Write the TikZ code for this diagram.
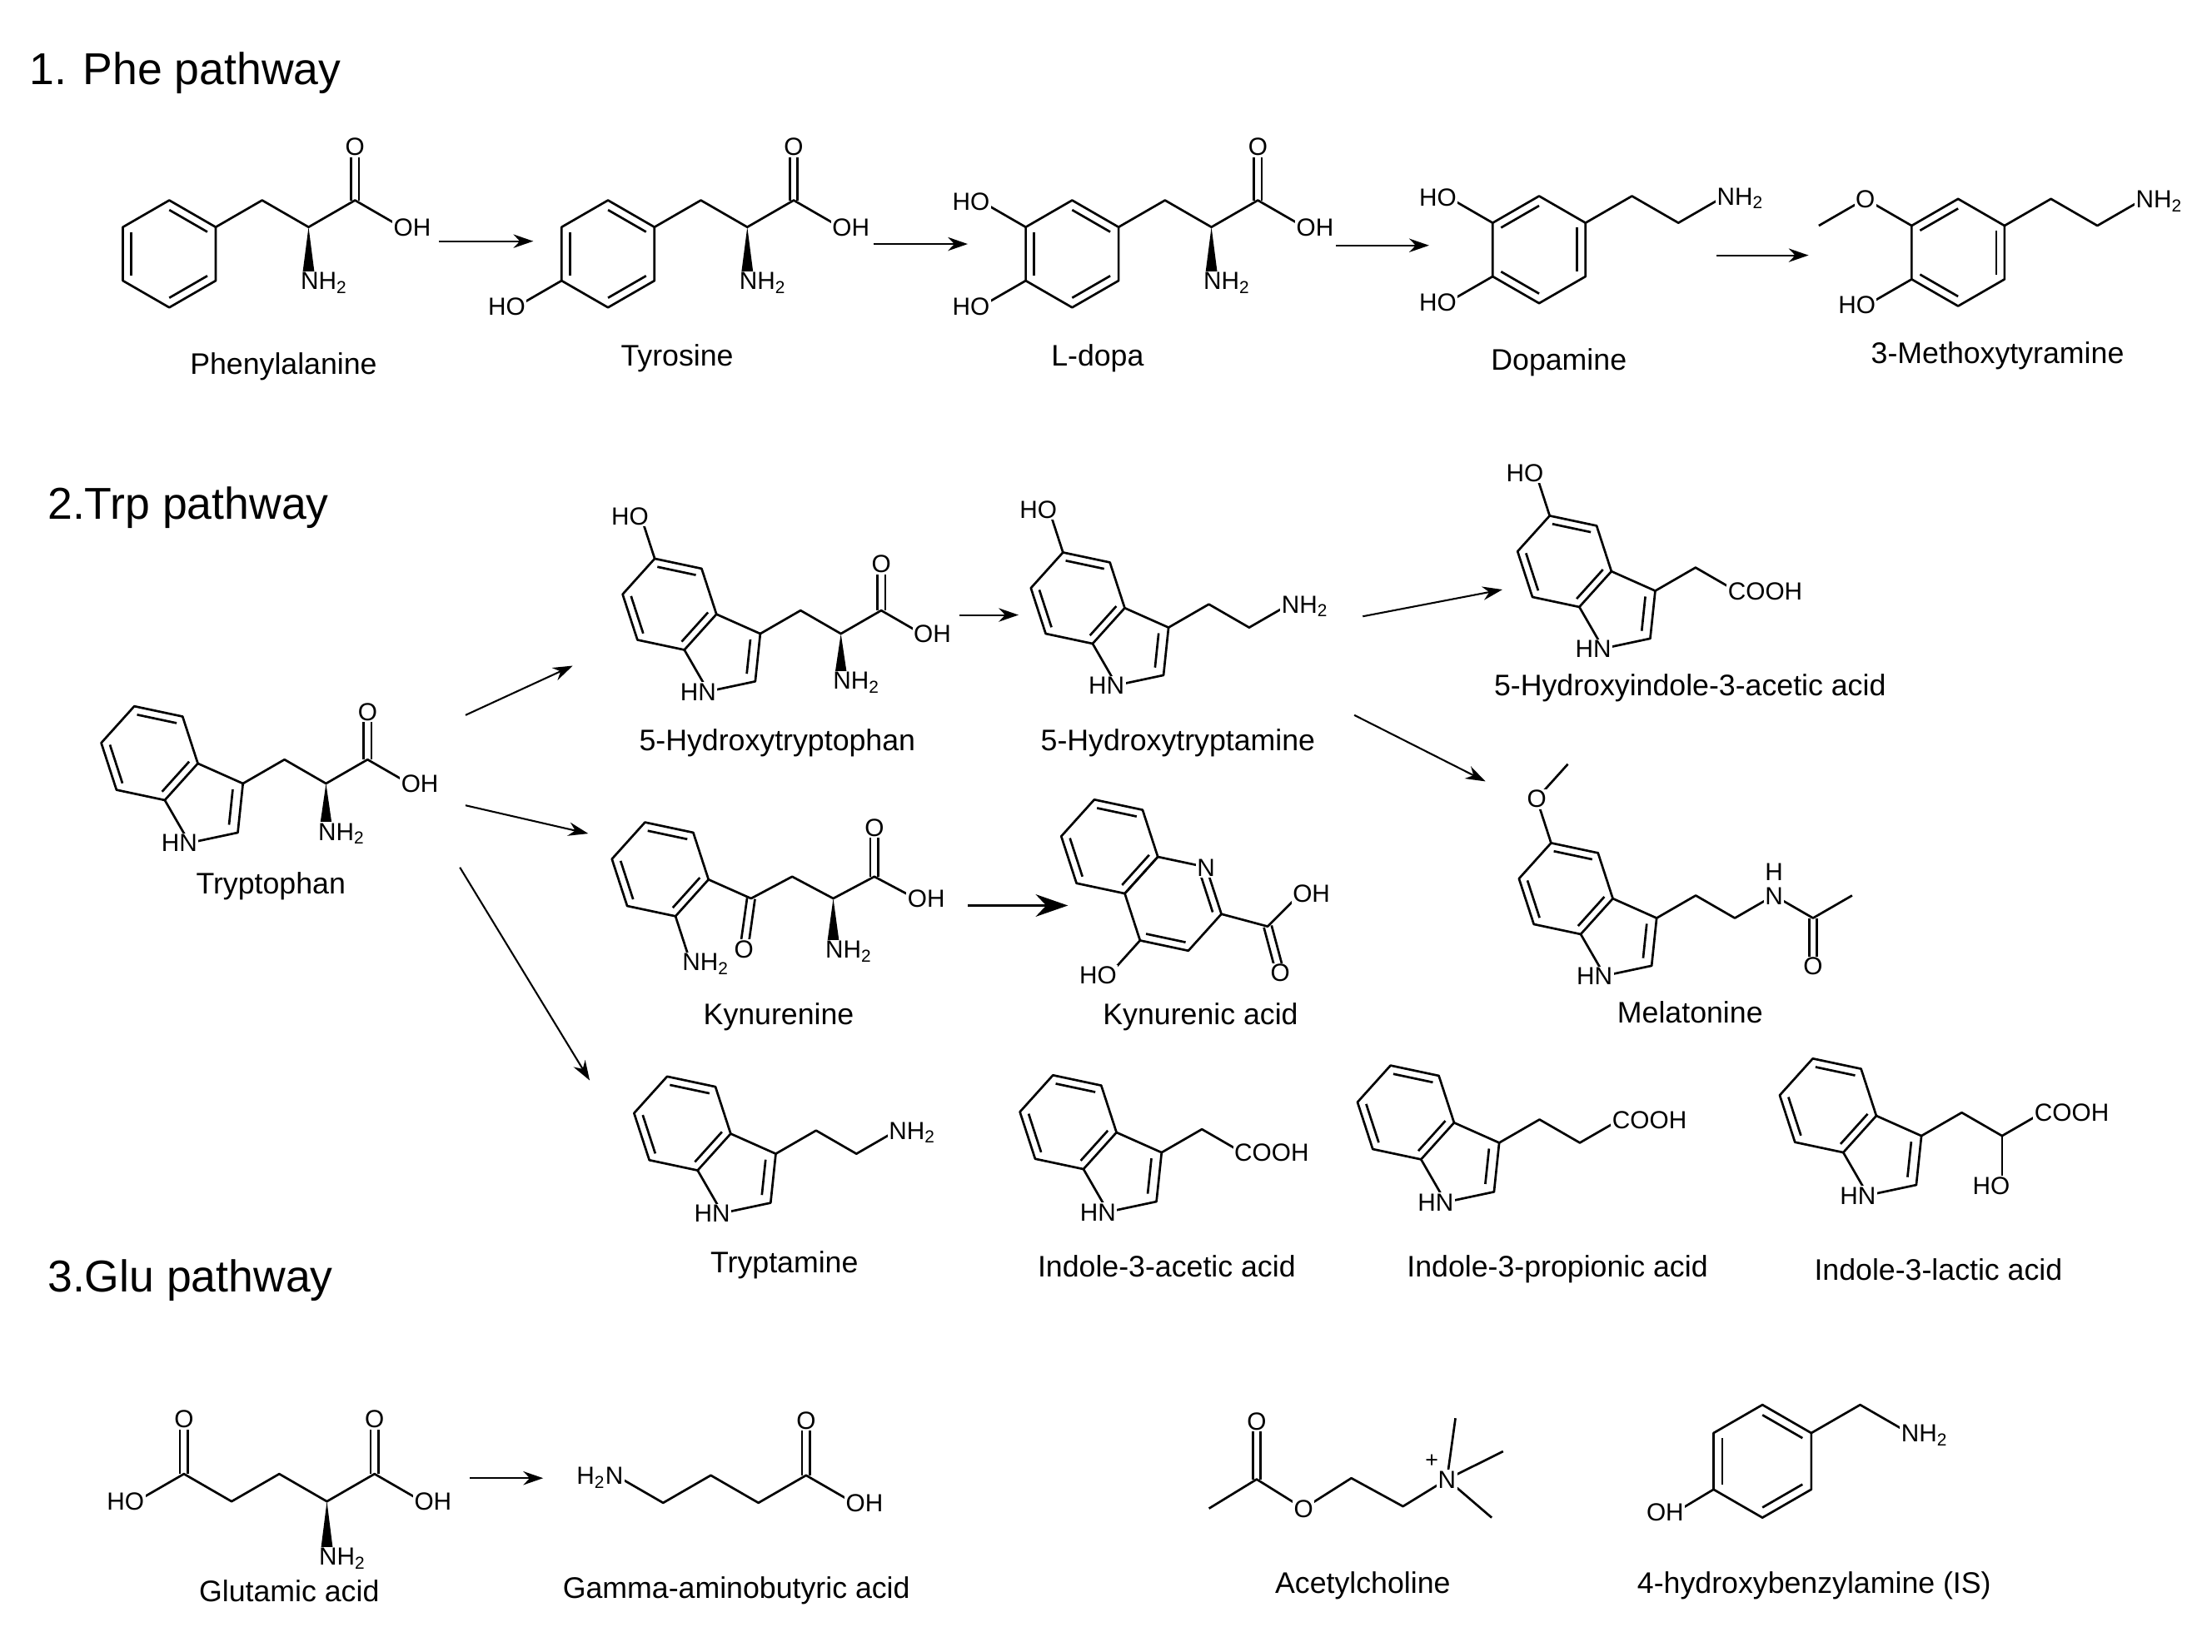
\documentclass[tikz,border=0pt]{standalone}
\usepackage{fontspec}
\setmainfont{Liberation Sans}
\usetikzlibrary{calc,arrows.meta}
\newcounter{lbl}
\tikzset{
 lab/.style={font=\fontsize{10}{12}\selectfont,inner sep=0.5pt,fill=white},
 cname/.style={font=\fontsize{12}{14}\selectfont,inner sep=1pt},
 ttl/.style={font=\fontsize{18}{20}\selectfont,anchor=west,inner sep=0pt},
 arr/.style={-{Stealth[length=8pt,width=5.5pt]},line width=0.7pt},
 bigarr/.style={-{Stealth[length=13pt,width=9pt]},line width=1pt}
}
\newcommand\atC[2]{\stepcounter{lbl}\node[lab,anchor=base,yshift=-3.6pt] (lb\arabic{lbl}) at (#1) {#2};}
\newcommand\atL[2]{\stepcounter{lbl}\node[lab,anchor=base west,xshift=-4.1pt,yshift=-3.6pt] (lb\arabic{lbl}) at (#1) {#2};}
\newcommand\atR[2]{\stepcounter{lbl}\node[lab,anchor=base east,xshift=4.1pt,yshift=-3.6pt] (lb\arabic{lbl}) at (#1) {#2};}
\newcommand\dbin[4][0.82]{\draw ($(#4)!#1!(#2)$) -- ($(#4)!#1!(#3)$);}
\newcommand\dbond[2]{\draw ($(#1)!1.6pt!90:(#2)$) -- ($(#2)!1.6pt!-90:(#1)$); \draw ($(#1)!1.6pt!-90:(#2)$) -- ($(#2)!1.6pt!90:(#1)$);}
\newcommand\wdg[2]{\fill (#1) -- ($(#2)!2.8pt!90:(#1)$) -- ($(#2)!2.8pt!-90:(#1)$) -- cycle;}
\newcommand\hexr[4]{%
 \coordinate (#1c) at #2;
 \coordinate (#1v0) at ($(#1c)+(#4:#3)$);
 \coordinate (#1v1) at ($(#1c)+(#4+60:#3)$);
 \coordinate (#1v2) at ($(#1c)+(#4+120:#3)$);
 \coordinate (#1v3) at ($(#1c)+(#4+180:#3)$);
 \coordinate (#1v4) at ($(#1c)+(#4+240:#3)$);
 \coordinate (#1v5) at ($(#1c)+(#4+300:#3)$);
 \draw (#1v0)--(#1v1)--(#1v2)--(#1v3)--(#1v4)--(#1v5)--cycle;}
\newcommand\indole[3]{%
 \hexr{#1}{#2}{#3}{-108}
 \coordinate (#1C3) at ($(#1v2)!1!108:(#1v3)$);
 \coordinate (#1N) at ($(#1v3)!1!-108:(#1v2)$);
 \coordinate (#1C2) at ($(#1C3)!1!108:(#1v2)$);
 \coordinate (#1pc) at ($0.2*(#1v2)+0.2*(#1C3)+0.2*(#1C2)+0.2*(#1N)+0.2*(#1v3)$);
 \draw (#1v2)--(#1C3)--(#1C2)--(#1N)--(#1v3);
 \dbin{#1v0}{#1v1}{#1c}\dbin{#1v5}{#1v4}{#1c}\dbin{#1v2}{#1v3}{#1c}\dbin[0.72]{#1C3}{#1C2}{#1pc}
 \atR{#1N}{HN}}
\newcommand\aacid[3]{%
 \coordinate (#1A) at ($(#2)+(-30:#3)$);
 \coordinate (#1B) at ($(#1A)+(30:#3)$);
 \coordinate (#1C) at ($(#1B)+(-30:#3)$);
 \coordinate (#1O) at ($(#1C)+(-90:#3)$);
 \coordinate (#1OH) at ($(#1C)+(30:#3)$);
 \coordinate (#1N) at ($(#1B)+(90:#3)$);
 \draw (#2)--(#1A)--(#1B)--(#1C)--(#1OH);
 \dbond{#1C}{#1O}\wdg{#1B}{#1N}
 \atC{#1O}{O}\atL{#1OH}{OH}\atL{#1N}{NH\textsubscript{2}}}
\newcommand\ethyl[4]{%
 \coordinate (#1A) at ($(#2)+(-30:#3)$);
 \coordinate (#1B) at ($(#1A)+(30:#3)$);
 \coordinate (#1N) at ($(#1B)+(-30:#3)$);
 \draw (#2)--(#1A)--(#1B)--(#1N);
 \atL{#1N}{#4}}
\newcommand\hydroxy[3]{% prefix, vertex, angle
 \coordinate (#1O) at ($(#2)+(#3:32)$);
 \draw (#2)--(#1O); \atR{#1O}{HO}}
\begin{document}
\begin{tikzpicture}[x=0.02cm,y=-0.02cm,line width=0.9pt,line join=round]
\useasboundingbox (0,0) rectangle (1568,1171);
\fill[white] (0,0) rectangle (1568,1171);
% ---------- titles
\node[ttl] (t1) at (20,52) {1. Phe pathway};
\node[ttl] (t2) at (33,360) {2.Trp pathway};
\node[ttl] (t3) at (33,908) {3.Glu pathway};
% ---------- Phe row
\hexr{phe}{(120,180)}{38}{-90}
\dbin{phev0}{phev1}{phec}\dbin{phev5}{phev4}{phec}\dbin{phev2}{phev3}{phec}
\aacid{phex}{phev1}{38}
\node[cname] (nphe) at (201,260) {Phenylalanine};
\hexr{tyr}{(431,180)}{38}{-90}
\dbin{tyrv0}{tyrv1}{tyrc}\dbin{tyrv5}{tyrv4}{tyrc}\dbin{tyrv2}{tyrv3}{tyrc}
\aacid{tyrx}{tyrv1}{38}
\coordinate (tyrHO) at ($(tyrv4)+(150:36)$); \draw (tyrv4)--(tyrHO); \atR{tyrHO}{HO}
\node[cname] (ntyr) at (480,254) {Tyrosine};
\hexr{dop}{(760,180)}{38}{-90}
\dbin{dopv0}{dopv1}{dopc}\dbin{dopv5}{dopv4}{dopc}\dbin{dopv2}{dopv3}{dopc}
\aacid{dopx}{dopv1}{38}
\coordinate (dopHa) at ($(dopv5)+(210:36)$); \draw (dopv5)--(dopHa); \atR{dopHa}{HO}
\coordinate (dopHb) at ($(dopv4)+(150:36)$); \draw (dopv4)--(dopHb); \atR{dopHb}{HO}
\node[cname] (nldopa) at (778,254) {L-dopa};
\hexr{da}{(1091,177)}{38}{-90}
\dbin{dav5}{dav0}{dac}\dbin{dav1}{dav2}{dac}\dbin{dav3}{dav4}{dac}
\ethyl{dax}{dav1}{38}{NH\textsubscript{2}}
\coordinate (daHa) at ($(dav5)+(210:36)$); \draw (dav5)--(daHa); \atR{daHa}{HO}
\coordinate (daHb) at ($(dav4)+(150:36)$); \draw (dav4)--(daHb); \atR{daHb}{HO}
\node[cname] (nda) at (1105,257) {Dopamine};
\hexr{mt}{(1388,179)}{38}{-90}
\dbin{mtv5}{mtv0}{mtc}\dbin{mtv1}{mtv2}{mtc}\dbin{mtv3}{mtv4}{mtc}
\ethyl{mtx}{mtv1}{38}{NH\textsubscript{2}}
\coordinate (mtO) at ($(mtv5)+(210:38)$);
\coordinate (mtMe) at ($(mtO)+(150:38)$);
\draw (mtv5)--(mtO)--(mtMe); \atC{mtO}{O}
\coordinate (mtHb) at ($(mtv4)+(150:36)$); \draw (mtv4)--(mtHb); \atR{mtHb}{HO}
\node[cname] (nmt) at (1416,252) {3-Methoxytyramine};
% Phe arrows
\coordinate (p1s) at (311,171); \coordinate (p1e) at (378,171);
\coordinate (p2s) at (619,173); \coordinate (p2e) at (686,173);
\coordinate (p3s) at (947,174); \coordinate (p3e) at (1013,174);
\coordinate (p4s) at (1217,181); \coordinate (p4e) at (1282,181);
\draw[arr] (p1s)--(p1e); \draw[arr] (p2s)--(p2e); \draw[arr] (p3s)--(p3e); \draw[arr] (p4s)--(p4e);
% ---------- Trp section
\indole{trp}{(106,534)}{35}
\aacid{trpx}{trpC3}{34}
\node[cname] (ntrp) at (192,628) {Tryptophan};
\indole{htp}{(474.6,428.4)}{34}
\hydroxy{htph}{htpv0}{-108}
\aacid{htpx}{htpC3}{33}
\node[cname] (nhtp) at (551,527) {5-Hydroxytryptophan};
\indole{ht}{(764,424)}{34}
\hydroxy{hth}{htv0}{-108}
\ethyl{htx}{htC3}{33}{NH\textsubscript{2}}
\node[cname] (nht) at (835,527) {5-Hydroxytryptamine};
\indole{hia}{(1109,398)}{34}
\hydroxy{hiah}{hiav0}{-108}
\coordinate (hiaA) at ($(hiaC3)+(-30:33)$);
\coordinate (hiaB) at ($(hiaA)+(30:33)$);
\draw (hiaC3)--(hiaA)--(hiaB); \atL{hiaB}{COOH}
\node[cname] (nhia) at (1198,488) {5-Hydroxyindole-3-acetic acid};
% melatonin
\indole{mel}{(1110,630)}{34}
\coordinate (melO) at ($(melv0)+(-108:33)$);
\coordinate (melMe) at ($(melO)+(-48:33)$);
\draw (melv0)--(melO)--(melMe); \atC{melO}{O}
\coordinate (melA) at ($(melC3)+(-30:32)$);
\coordinate (melB) at ($(melA)+(30:32)$);
\coordinate (melNa) at ($(melB)+(-30:32)$);
\coordinate (melCc) at ($(melNa)+(30:32)$);
\coordinate (melMe2) at ($(melCc)+(-30:32)$);
\coordinate (melOc) at ($(melCc)+(90:34)$);
\coordinate (melH) at ($(melNa)+(0,-17)$);
\draw (melC3)--(melA)--(melB)--(melNa)--(melCc)--(melMe2);
\dbond{melCc}{melOc}
\atC{melNa}{N}\atC{melH}{H}\atC{melOc}{O}
\node[cname] (nmel) at (1198,718) {Melatonine};
% kynurenine
\hexr{kyn}{(468,616.3)}{35}{-108}
\dbin{kynv0}{kynv1}{kync}\dbin{kynv5}{kynv4}{kync}\dbin{kynv2}{kynv3}{kync}
\coordinate (kynK) at ($(kynv2)+(24:33)$);
\coordinate (kynKO) at ($(kynK)+(98:36)$);
\coordinate (kynA) at ($(kynK)+(-28:33)$);
\coordinate (kynB) at ($(kynA)+(28:33)$);
\coordinate (kynC) at ($(kynB)+(-28:33)$);
\coordinate (kynO) at ($(kynC)+(-90:35)$);
\coordinate (kynOH) at ($(kynC)+(28:33)$);
\coordinate (kynNa) at ($(kynB)+(90:36)$);
\coordinate (kynNr) at ($(kynv3)+(72:34)$);
\draw (kynv2)--(kynK)--(kynA)--(kynB)--(kynC)--(kynOH);
\draw (kynv3)--(kynNr);
\dbond{kynK}{kynKO}\dbond{kynC}{kynO}\wdg{kynB}{kynNa}
\atC{kynKO}{O}\atC{kynO}{O}\atL{kynOH}{OH}\atL{kynNa}{NH\textsubscript{2}}\atL{kynNr}{NH\textsubscript{2}}
\node[cname] (nkyn) at (552,721) {Kynurenine};
% kynurenic acid
\hexr{kna}{(786.5,600.2)}{35}{-108}
\hexr{knb}{($(knac)+(42:60.62)$)}{35}{-108}
\dbin{knav0}{knav1}{knac}\dbin{knav5}{knav4}{knac}\dbin{knav2}{knav3}{knac}
\dbin{knbv1}{knbv2}{knbc}\dbin{knbv3}{knbv4}{knbc}
\coordinate (knaHO) at ($(knbv4)+(132:33)$);
\coordinate (knaCc) at ($(knbv2)+(15:34)$);
\coordinate (knaOH) at ($(knaCc)+(-45:33)$);
\coordinate (knaO) at ($(knaCc)+(75:34)$);
\draw (knbv4)--(knaHO); \draw (knbv2)--(knaCc)--(knaOH);
\dbond{knaCc}{knaO}
\atC{knbv1}{N}\atR{knaHO}{HO}\atL{knaOH}{OH}\atC{knaO}{O}
\node[cname] (nkna) at (851,721) {Kynurenic acid};
% bottom indoles
\indole{tra}{(483.7,796.5)}{35}
\ethyl{trax}{traC3}{33}{NH\textsubscript{2}}
\node[cname] (ntra) at (556,897) {Tryptamine};
\indole{iaa}{(757.2,795.6)}{35}
\coordinate (iaaA) at ($(iaaC3)+(-30:33)$);
\coordinate (iaaB) at ($(iaaA)+(30:33)$);
\draw (iaaC3)--(iaaA)--(iaaB); \atL{iaaB}{COOH}
\node[cname] (niaa) at (827,898) {Indole-3-acetic acid};
\indole{ipa}{(996.5,788.7)}{35}
\ethyl{ipax}{ipaC3}{33}{COOH}
\node[cname] (nipa) at (1104,900) {Indole-3-propionic acid};
\indole{ila}{(1295.8,783.8)}{35}
\ethyl{ilax}{ilaC3}{33}{COOH}
\coordinate (ilaHO) at ($(ilaxB)+(90:35)$);
\draw (ilaxB)--(ilaHO); \atR{ilaHO}{HO}
\node[cname] (nila) at (1374,900) {Indole-3-lactic acid};
% Trp arrows
\coordinate (a1s) at (330,507); \coordinate (a1e) at (406,472);
\coordinate (a2s) at (330,571); \coordinate (a2e) at (417,591);
\coordinate (a3s) at (326,615); \coordinate (a3e) at (418,766);
\coordinate (a4s) at (680,436); \coordinate (a4e) at (722,436);
\coordinate (a5s) at (966,437); \coordinate (a5e) at (1065,418);
\coordinate (a6s) at (960,507); \coordinate (a6e) at (1053,554);
\coordinate (a7s) at (686,642); \coordinate (a7e) at (757,642);
\draw[arr] (a1s)--(a1e); \draw[arr] (a2s)--(a2e); \draw[arr] (a3s)--(a3e);
\draw[arr] (a4s)--(a4e); \draw[arr] (a5s)--(a5e); \draw[arr] (a6s)--(a6e);
\draw[bigarr] (a7s)--(a7e);
% ---------- Glu row
\coordinate (gC1) at (130.4,1045);
\coordinate (gO1) at ($(gC1)+(-90:39)$);
\coordinate (gHO) at ($(gC1)+(150:39)$);
\coordinate (gA) at ($(gC1)+(30:39)$);
\coordinate (gB) at ($(gA)+(-30:39)$);
\coordinate (gCa) at ($(gB)+(30:39)$);
\coordinate (gC5) at ($(gCa)+(-30:39)$);
\coordinate (gO5) at ($(gC5)+(-90:39)$);
\coordinate (gOH) at ($(gC5)+(30:39)$);
\coordinate (gN) at ($(gCa)+(90:39)$);
\draw (gHO)--(gC1)--(gA)--(gB)--(gCa)--(gC5)--(gOH);
\dbond{gC1}{gO1}\dbond{gC5}{gO5}\wdg{gCa}{gN}
\atC{gO1}{O}\atC{gO5}{O}\atR{gHO}{HO}\atL{gOH}{OH}\atL{gN}{NH\textsubscript{2}}
\node[cname] (nglu) at (205,1128) {Glutamic acid};
\coordinate (g1s) at (333,1048); \coordinate (g1e) at (385,1048);
\draw[arr] (g1s)--(g1e);
\coordinate (bC) at (571.4,1046);
\coordinate (bO) at ($(bC)+(-90:39)$);
\coordinate (bOH) at ($(bC)+(30:39)$);
\coordinate (bA) at ($(bC)+(150:39)$);
\coordinate (bB) at ($(bA)+(210:39)$);
\coordinate (bD) at ($(bB)+(150:39)$);
\coordinate (bN) at ($(bD)+(210:39)$);
\draw (bN)--(bD)--(bB)--(bA)--(bC)--(bOH);
\dbond{bC}{bO}
\atC{bO}{O}\atL{bOH}{OH}\atR{bN}{H\textsubscript{2}N}
\node[cname] (ngaba) at (522,1128) {Gamma-aminobutyric acid};
% acetylcholine
\coordinate (acMe) at (857,1069.5);
\coordinate (acC) at (890.8,1048.8);
\coordinate (acO) at (890.8,1007.5);
\coordinate (acOe) at (924,1069.5);
\coordinate (acA) at (957.9,1048);
\coordinate (acB) at (994.5,1068);
\coordinate (acN) at (1025.7,1048.8);
\coordinate (acM1) at (1031.7,1005.5);
\coordinate (acM2) at (1065.5,1029);
\coordinate (acM3) at (1057.4,1076);
\draw (acMe)--(acC)--(acOe)--(acA)--(acB)--(acN);
\draw (acN)--(acM1); \draw (acN)--(acM2); \draw (acN)--(acM3);
\dbond{acC}{acO}
\atC{acO}{O}\atC{acOe}{O}\atC{acN}{N}
\node[font=\fontsize{9}{10}\selectfont,inner sep=0pt] (acplus) at (1015,1036) {+};
\node[cname] (nach) at (966,1124) {Acetylcholine};
% 4-hydroxybenzylamine
\hexr{is}{(1249.3,1036)}{40}{-90}
\dbin{isv0}{isv1}{isc}\dbin{isv5}{isv4}{isc}\dbin{isv2}{isv3}{isc}
\coordinate (isA) at ($(isv1)+(-30:40)$);
\coordinate (isN) at ($(isA)+(30:40)$);
\coordinate (isOH) at (1188,1072);
\draw (isv1)--(isA)--(isN); \draw (isv4)--(isOH);
\atL{isN}{NH\textsubscript{2}}\atR{isOH}{OH}
\node[cname] (nis) at (1286,1124) {4-hydroxybenzylamine (IS)};
\end{tikzpicture}
\end{document}
